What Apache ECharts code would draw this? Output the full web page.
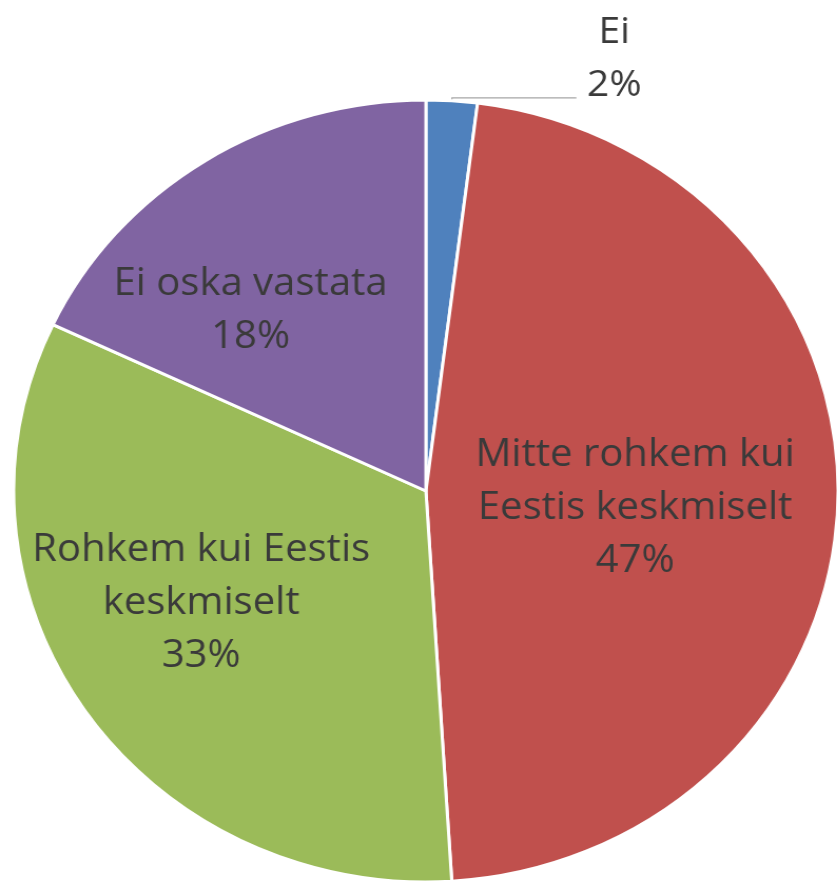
<!DOCTYPE html>
<html>
<head>
<meta charset="utf-8">
<script src="https://cdn.jsdelivr.net/npm/echarts@6/dist/echarts.min.js"></script>
<style>
  html, body { margin: 0; padding: 0; background: #fff; overflow: hidden; }
  /* the source picture is a little wider than tall, so stretch the chart box */
  #chart { width: 794px; height: 883px; transform: scaleX(1.0542); transform-origin: 0 0; }
</style>
</head>
<body>
<div id="chart"></div>
<script>
const categories = [
  'Ei',
  'Mitte rohkem kui\nEestis keskmiselt',
  'Rohkem kui Eestis\nkeskmiselt',
  'Ei oska vastata'
]
const shares = [2, 47, 33, 18]
const colors = ['#4F81BD', '#C0504D', '#9BBB59', '#8064A2']

const TEXT_COLOR = '#3a3a3a'
const FONT = '"Open Sans", Lato, sans-serif'

// nudges for the inside labels, by slice index
const labelShift = [[0, 0], [0, 11], [-49, 1], [-60, -13]]

const chart = echarts.init(document.getElementById('chart'))

const pieData = categories.map((name, i) => {
  const item = { name, value: shares[i], itemStyle: { color: colors[i] } }
  if (i === 0) {
    item.label = {
      position: 'outside',
      formatter: '{a|{b}}\n{a|{c}%}',
      padding: [0, 0, 78, 0],
      rich: {
        a: { width: 62, align: 'center', fontSize: 37, lineHeight: 53, color: TEXT_COLOR, fontFamily: FONT }
      }
    }
    item.labelLine = { show: true, length: 3, length2: 118, lineStyle: { color: '#a6a6a6', width: 1.2 } }
  }
  return item
})

const option = {
  animation: false,
  series: [{
    type: 'pie',
    center: [404, 491],
    radius: 391,
    startAngle: 90,
    clockwise: true,
    avoidLabelOverlap: false,
    data: pieData,
    itemStyle: {
      borderColor: '#fff',
      borderWidth: 3
    },
    label: {
      show: true,
      position: 'inside',
      formatter: '{b}\n{c}%',
      color: TEXT_COLOR,
      fontFamily: FONT,
      fontSize: 38,
      lineHeight: 53,
      align: 'center'
    },
    labelLine: { show: false },
    labelLayout: params => {
      const s = labelShift[params.dataIndex]
      return { dx: s[0], dy: s[1] }
    }
  }]
}

chart.setOption(option)
</script>
</body>
</html>
